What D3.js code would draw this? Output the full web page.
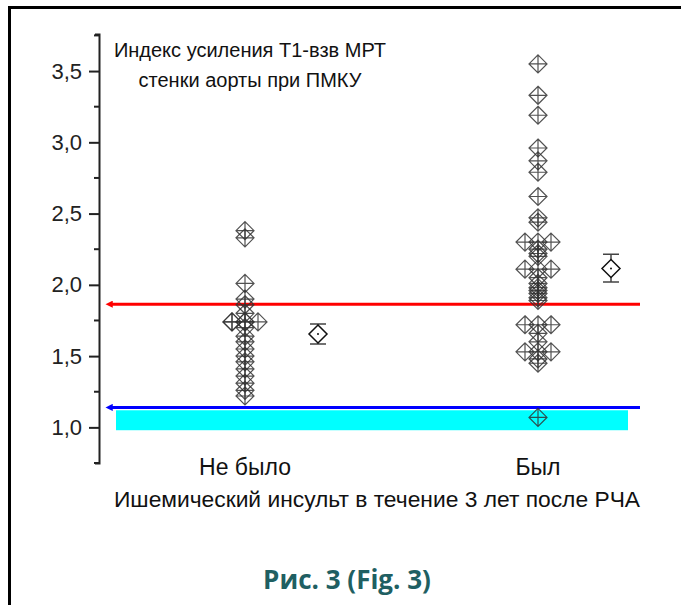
<!DOCTYPE html>
<head>
    <meta charset="utf-8">
    <script src="https://cdn.jsdelivr.net/npm/d3@7"></script>
    <style type="text/css">
        body { margin: 0; background: #fff; }
        svg { display: block; font-family: "Liberation Sans", Arial, sans-serif; }
    </style>
</head>
<body>
    <div id="chart"></div>
</body>
</html>

<script type="text/javascript">
	var width = 681, height = 605;

	// Data
	var categories = ["Не было", "Был"];
	var groupNo = [2.38, 2.33, 2.01, 1.90, 1.86, 1.80, 1.74, 1.74, 1.74, 1.74, 1.74,
		1.70, 1.64, 1.60, 1.55, 1.50, 1.46, 1.41, 1.36, 1.31, 1.26, 1.22];
	var groupYes = [3.55, 3.33, 3.19, 2.96, 2.87, 2.79, 2.62, 2.47, 2.44,
		2.30, 2.30, 2.30, 2.25, 2.22, 2.20, 2.11, 2.11, 2.11,
		2.05, 2.01, 1.98, 1.96, 1.94, 1.91, 1.89,
		1.72, 1.72, 1.72, 1.66, 1.60, 1.53, 1.53, 1.53, 1.48, 1.45, 1.07];
	var means = [1.655, 2.115];
	var errLow = [1.585, 2.02];
	var errHigh = [1.725, 2.215];
	var yTicks = [1.0, 1.5, 2.0, 2.5, 3.0, 3.5];
	var redLevel = 1.864, blueLevel = 1.14;
	var cyanBand = [0.98, 1.12];

	var svg = d3.select("#chart").append("svg")
		.attr("width", width)
		.attr("height", height);

	// outer frame (only left & top edges visible)
	svg.append("path")
		.attr("d", "M9.5,606V7.5H682")
		.attr("fill", "none")
		.attr("stroke", "#000")
		.attr("stroke-width", 3);

	var y = d3.scaleLinear().domain([0.75, 3.76]).range([463, 34]);
	var x = d3.scalePoint().domain(categories).range([245, 538]);
	var axisX = 99;

	// cyan band and reference lines
	svg.append("rect")
		.attr("x", 116).attr("width", 512)
		.attr("y", y(cyanBand[1]))
		.attr("height", y(cyanBand[0]) - y(cyanBand[1]))
		.attr("fill", "#00ffff");

	var defs = svg.append("defs");
	[["red", "#ff0000"], ["blue", "#0000ff"]].forEach(function(c) {
		defs.append("marker")
			.attr("id", "arr-" + c[0])
			.attr("viewBox", "0 0 10 10")
			.attr("refX", 1).attr("refY", 5)
			.attr("markerWidth", 3.5).attr("markerHeight", 2.4)
			.attr("orient", "auto-start-reverse")
			.append("path")
			.attr("d", "M0,0L10,5L0,10z")
			.attr("fill", c[1]);
	});

	[[redLevel, "red", "#ff0000"], [blueLevel, "blue", "#0000ff"]].forEach(function(l) {
		svg.append("line")
			.attr("x1", 112).attr("x2", 640)
			.attr("y1", y(l[0])).attr("y2", y(l[0]))
			.attr("stroke", l[2])
			.attr("stroke-width", 3)
			.attr("marker-start", "url(#arr-" + l[1] + ")");
	});

	// y axis
	var yAxis = d3.axisLeft(y)
		.tickValues(yTicks)
		.tickSize(10)
		.tickPadding(7)
		.tickFormat(function(d) { return d3.format(".1f")(d).replace(".", ","); });

	var gAxis = svg.append("g")
		.attr("transform", "translate(" + axisX + ",0)")
		.call(yAxis);
	gAxis.select(".domain").attr("d", "M-4,34.5H0.5V463.5H-4").attr("stroke-width", 2).attr("stroke", "#222");
	gAxis.selectAll(".tick line").attr("stroke-width", 2).attr("stroke", "#222");
	gAxis.selectAll(".tick text")
		.attr("font-size", 22)
		.attr("font-family", "Liberation Sans, Arial, sans-serif")
		.attr("fill", "#222");

	var minor = d3.range(0.75, 3.76, 0.5);
	gAxis.selectAll(".minor").data(minor).enter().append("line")
		.attr("x1", -5).attr("x2", 0)
		.attr("y1", function(d) { return y(d); })
		.attr("y2", function(d) { return y(d); })
		.attr("stroke", "#222").attr("stroke-width", 2);

	// scatter points: equal values side by side
	var step = 13;
	var order = [0, -1, 1];
	function layout(vals, cat) {
		var seen = {};
		return vals.map(function(v) {
			var k = seen[v] || 0;
			seen[v] = k + 1;
			return { cat: cat, v: v, dx: order[k % 3] * step };
		});
	}
	var pts = layout(groupNo, categories[0]).concat(layout(groupYes, categories[1]));

	var r = 9;
	var marks = svg.append("g").selectAll("g.pt").data(pts).enter().append("g")
		.attr("class", "pt")
		.attr("transform", function(d) { return "translate(" + (x(d.cat) + d.dx) + "," + y(d.v) + ")"; });
	marks.append("path")
		.attr("d", "M0," + (-r) + "L" + r + ",0L0," + r + "L" + (-r) + ",0Z" +
			"M0," + (-r) + "V" + r + "M" + (-r) + ",0H" + r)
		.attr("fill", "none")
		.attr("stroke", "#333")
		.attr("stroke-opacity", 0.85)
		.attr("stroke-width", 1.2);

	// means with error bars
	var meanOff = 73;
	var mg = svg.append("g").selectAll("g").data(categories).enter().append("g")
		.attr("transform", function(d) { return "translate(" + (x(d) + meanOff) + ",0)"; });
	mg.append("path")
		.attr("d", function(d, i) {
			var t = y(errHigh[i]), b = y(errLow[i]);
			return "M-8," + t + "H8M0," + t + "V" + b + "M-8," + b + "H8";
		})
		.attr("stroke", "#444").attr("stroke-width", 1.5).attr("fill", "none");
	mg.append("path")
		.attr("d", function(d, i) {
			var c = y(means[i]);
			return "M0," + (c - r) + "L" + r + "," + c + "L0," + (c + r) + "L" + (-r) + "," + c + "Z";
		})
		.attr("fill", "#fff").attr("stroke", "#111").attr("stroke-width", 1.5);
	mg.append("circle")
		.attr("cy", function(d, i) { return y(means[i]); })
		.attr("r", 1).attr("fill", "#111");

	// text helper
	function label(x0, y0, size, str) {
		return svg.append("text")
			.attr("x", x0).attr("y", y0)
			.attr("text-anchor", "middle")
			.attr("font-size", size)
			.attr("fill", "#111")
			.text(str);
	}

	// category labels
	categories.forEach(function(c) {
		label(x(c), 475, 23, c);
	});

	label(377, 507, 22.8, "Ишемический инсульт в течение 3 лет после РЧА");
	label(250, 57, 20, "Индекс усиления Т1-взв МРТ");
	label(250, 87, 20, "стенки аорты при ПМКУ");

	label(347, 589, 26, "Рис. 3 (Fig. 3)")
		.attr("font-weight", "bold")
		.attr("font-family", "Open Sans, sans-serif")
		.attr("fill", "#1f5f62");
</script>
